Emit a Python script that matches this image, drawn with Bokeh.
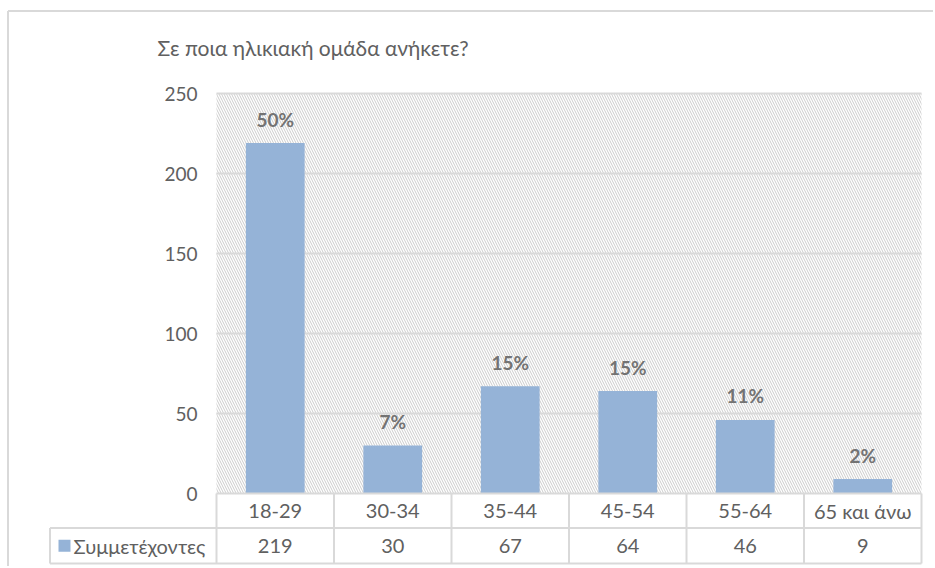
from bokeh.plotting import figure
from bokeh.models import Range1d
from bokeh.core.properties import value
from bokeh.embed import file_html
from bokeh.resources import INLINE

# ---- data ----
title_text = "Σε ποια ηλικιακή  ομάδα ανήκετε?"
categories = ["18-29", "30-34", "35-44", "45-54", "55-64", "65 και άνω"]
counts = [219, 30, 67, 64, 46, 9]
pct_labels = ["50%", "7%", "15%", "15%", "11%", "2%"]
series_name = "Συμμετέχοντες"
y_ticks = [0, 50, 100, 150, 200, 250]
y_max = 250

# ---- layout (pixels) ----
W, H = 933, 566
plot_left, plot_right = 216, 921      # pixel x of plot area
plot_bottom_px = 493                  # pixel y of value 0 (from top)
px_per_unit = 1.6
n = len(categories)
cat_w = (plot_right - plot_left) / n

def dx(px):
    return (px - plot_left) / cat_w

def dy(px):
    return (plot_bottom_px - px) / px_per_unit

FONT = value("Lato")
GRAY = "#606060"
LINE = "#D9D9D9"
BAR = "#95B3D7"

p = figure(width=W, height=H, output_backend="svg", toolbar_location=None,
           x_range=Range1d(dx(0), dx(W)), y_range=Range1d(dy(H), dy(0)),
           x_axis_type=None, y_axis_type=None, title=None,
           min_border=0, min_border_left=0, min_border_right=0,
           min_border_top=0, min_border_bottom=0)
p.outline_line_color = None
p.xgrid.visible = False
p.ygrid.visible = False
p.background_fill_color = "white"
p.border_fill_color = "white"

# outer chart border (top and left)
p.line([dx(7.5), dx(W)], [dy(10.5), dy(10.5)], line_color=LINE, line_width=2)
p.line([dx(7.5), dx(7.5)], [dy(10.5), dy(H)], line_color=LINE, line_width=2)

# hatched plot area
p.quad(left=[0], right=[n], bottom=[0], top=[y_max], fill_color=None,
       line_color=None, hatch_pattern="\\", hatch_color="#CBCBCB",
       hatch_scale=5, hatch_weight=1)

# gridlines
gt = [t for t in y_ticks if t > 0]
p.segment(x0=[0] * len(gt), x1=[n] * len(gt), y0=gt, y1=gt,
          line_color=LINE, line_width=2)

# bars
xs = [i + 0.5 for i in range(n)]
p.vbar(x=xs, top=counts, width=0.5, bottom=0, fill_color=BAR, line_color=None)

# data labels
p.text(x=xs, y=counts, text=pct_labels, text_font=FONT, text_font_size="19px",
       text_font_style="bold", text_color="#737373", text_align="center",
       text_baseline="middle", y_offset=-24)

# y tick labels
p.text(x=[dx(197)] * len(y_ticks), y=y_ticks, text=[str(t) for t in y_ticks],
       text_font=FONT, text_font_size="19px", text_color=GRAY,
       text_align="right", text_baseline="middle")

# title
p.text(x=[dx(157)], y=[dy(47)], text=[title_text], text_font=FONT,
       text_font_size="21px", text_color=GRAY, text_align="left",
       text_baseline="middle")

# ---- data table ----
row1_bot = dy(527.5)
row2_bot = dy(563)
leg_left = dx(49.5)
# horizontal lines
p.segment(x0=[0, leg_left, leg_left], x1=[n, n, n],
          y0=[0, row1_bot, row2_bot], y1=[0, row1_bot, row2_bot],
          line_color=LINE, line_width=2)
# vertical lines
vx = list(range(n + 1))
p.segment(x0=vx, x1=vx, y0=[0] * len(vx), y1=[row2_bot] * len(vx),
          line_color=LINE, line_width=2)
p.segment(x0=[leg_left], x1=[leg_left], y0=[row1_bot], y1=[row2_bot],
          line_color=LINE, line_width=2)

row1_c = (0 + row1_bot) / 2
row2_c = (row1_bot + row2_bot) / 2
p.text(x=xs, y=[row1_c] * n, text=categories, text_font=FONT,
       text_font_size="20px", text_color=GRAY, text_align="center",
       text_baseline="middle")
p.text(x=xs, y=[row2_c] * n, text=[str(c) for c in counts], text_font=FONT,
       text_font_size="20px", text_color=GRAY, text_align="center",
       text_baseline="middle")

# legend key in table
p.scatter(x=[dx(64)], y=[row2_c], marker="square", size=12, fill_color=BAR,
          line_color=None)
p.text(x=[dx(73)], y=[row2_c], text=[series_name], text_font=FONT,
       text_font_size="20px", text_color=GRAY, text_align="left",
       text_baseline="middle")

open("out.html", "w").write(file_html(p, INLINE))
